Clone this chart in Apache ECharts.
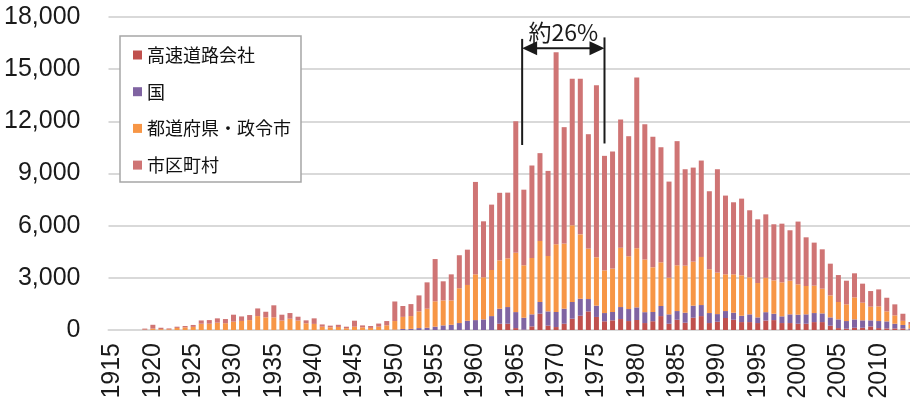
<!DOCTYPE html>
<html>
<head>
<meta charset="utf-8">
<script src="https://cdn.jsdelivr.net/npm/echarts@6/dist/echarts.min.js"></script>
<style>
  html, body { margin: 0; padding: 0; background: #ffffff; }
  #chart { width: 910px; height: 402px; }
</style>
</head>
<body>
<div id="chart"></div>
<script>
// Bridges by year of construction, stacked by managing body
const years = [
  '1915','1916','1917','1918','1919','1920','1921','1922','1923','1924',
  '1925','1926','1927','1928','1929','1930','1931','1932','1933','1934',
  '1935','1936','1937','1938','1939','1940','1941','1942','1943','1944',
  '1945','1946','1947','1948','1949','1950','1951','1952','1953','1954',
  '1955','1956','1957','1958','1959','1960','1961','1962','1963','1964',
  '1965','1966','1967','1968','1969','1970','1971','1972','1973','1974',
  '1975','1976','1977','1978','1979','1980','1981','1982','1983','1984',
  '1985','1986','1987','1988','1989','1990','1991','1992','1993','1994',
  '1995','1996','1997','1998','1999','2000','2001','2002','2003','2004',
  '2005','2006','2007','2008','2009','2010','2011','2012','2013','2014'
];

// 高速道路会社
const expressway = [
  0,0,0,0,0,0,0,0,0,0,
  0,0,0,0,0,0,0,0,0,0,
  0,0,0,0,0,0,0,0,0,0,
  0,0,0,0,0,0,0,0,0,0,
  0,0,0,0,0,0,0,0,360,360,
  110,15,210,940,250,170,360,650,820,1070,
  750,500,555,630,515,575,400,505,800,360,
  590,420,705,800,400,475,690,590,455,455,
  400,545,570,400,400,360,360,455,455,245,
  110,75,130,130,205,110,90,90,90,20
];

// 国
const national = [
  0,0,0,0,0,0,0,0,0,0,
  0,0,0,0,0,0,0,0,0,0,
  0,0,0,0,0,0,0,0,0,0,
  0,0,0,0,0,20,60,65,110,130,
  190,265,300,400,530,570,610,800,865,960,
  920,690,690,670,820,865,865,960,980,710,
  650,475,480,690,690,725,625,530,580,540,
  500,575,695,635,575,440,400,405,365,445,
  325,480,365,385,500,520,540,520,500,480,
  500,440,480,425,350,405,405,270,200,60
];

// 都道府県・政令市
const prefectural = [
  0,0,0,0,20,80,50,40,120,150,
  180,360,360,420,390,480,520,570,800,725,
  725,540,650,540,385,350,190,155,175,100,
  190,155,120,190,270,495,695,735,960,1095,
  1460,1435,1400,2000,2060,2630,2420,2650,2780,2800,
  3410,3015,3240,3510,3185,3895,3745,4410,3700,2900,
  2780,2455,2495,3415,3035,3400,3030,2570,2510,2110,
  2630,2705,2530,2765,2515,2385,2110,2205,2325,2130,
  1975,1975,1920,1955,1935,1745,1630,1575,1420,1265,
  1000,960,1265,1015,785,845,575,480,235,220
];

// 市区町村
const municipal = [
  0,0,0,0,60,220,80,50,70,80,
  110,190,210,250,240,400,260,290,440,325,
  695,340,325,225,170,320,130,95,125,90,
  345,110,110,180,245,1125,625,690,920,1515,
  2430,1100,1500,1900,2030,5315,3220,3760,3885,3780,
  7565,4350,5320,5050,4895,11050,6695,8425,8945,6580,
  9900,6585,6735,7370,6905,9820,7775,7510,6620,5525,
  7140,5545,5410,5545,4490,5945,4530,4145,4410,3855,
  3665,3650,3225,3375,2900,3610,2800,2475,2265,1825,
  1550,1360,1385,1095,900,975,785,635,410,155
];

const seriesNames = ['高速道路会社', '国', '都道府県・政令市', '市区町村'];
const seriesColors = ['#C0504D', '#8064A2', '#F79646', '#CF7474'];

// bracketed span and its label
const noteText = '約26%';
const noteFrom = '1966';
const noteTo = '1976';

const numFont = "'Liberation Sans Narrow', 'Liberation Sans', sans-serif";
const jpFont = "'Noto Sans CJK JP', sans-serif";

const chart = echarts.init(document.getElementById('chart'), null, { renderer: 'canvas' });

const stacks = [expressway, national, prefectural, municipal];

chart.setOption({
  animation: false,
  backgroundColor: '#ffffff',
  grid: {
    left: 108.5, top: 17, width: 806.5, height: 313,
    containLabel: false,
    outerBoundsMode: 'none'
  },
  legend: {
    data: seriesNames,
    orient: 'vertical',
    left: 120,
    top: 36,
    padding: [10, 10, 8, 13],
    itemWidth: 9,
    itemHeight: 9,
    itemGap: 18.7,
    icon: 'rect',
    selectedMode: false,
    borderColor: '#A6A6A6',
    borderWidth: 1.5,
    backgroundColor: '#ffffff',
    textStyle: { fontSize: 18, lineHeight: 18, fontFamily: jpFont, color: '#111111' }
  },
  xAxis: {
    type: 'category',
    data: years,
    boundaryGap: true,
    axisLine: { show: true, lineStyle: { color: '#D9D9D9', width: 2 } },
    axisTick: { show: false },
    axisLabel: {
      interval: 4,
      rotate: 90,
      margin: 13,
      fontSize: 25,
      fontFamily: numFont,
      color: '#1a1a1a'
    },
    splitLine: { show: false }
  },
  yAxis: {
    type: 'value',
    min: 0,
    max: 18000,
    interval: 3000,
    axisLine: { show: false },
    axisTick: { show: false },
    axisLabel: {
      margin: 28,
      fontSize: 25,
      fontFamily: numFont,
      color: '#1a1a1a',
      formatter: v => v.toLocaleString('en-US')
    },
    splitLine: { lineStyle: { color: '#D9D9D9', width: 2 } }
  },
  series: stacks.map((d, i) => ({
    name: seriesNames[i],
    type: 'bar',
    stack: 'total',
    data: d,
    barWidth: 5,
    itemStyle: { color: seriesColors[i] },
    emphasis: { disabled: true }
  }))
});

// Bracket with double arrow over the peak decade
const xAt = c => chart.convertToPixel({ xAxisIndex: 0 }, c);
const yAt = v => chart.convertToPixel({ yAxisIndex: 0 }, v);
const band = xAt(years[1]) - xAt(years[0]);
const xL = xAt(noteFrom) - 0.21 * band;
const xR = xAt(noteTo);
const yTop = yAt(16740);
const yBottom = yAt(10640);
const yArrow = yAt(16200);
const yLabel = yAt(17150);
const ink = '#1a1a1a';
const head = 15, half = 7;

chart.setOption({
  graphic: [
    { type: 'line', shape: { x1: xL, y1: yTop, x2: xL, y2: yBottom }, style: { stroke: ink, lineWidth: 2 } },
    { type: 'line', shape: { x1: xR, y1: yTop - 1.5, x2: xR, y2: yBottom - 1.5 }, style: { stroke: ink, lineWidth: 2 } },
    { type: 'line', shape: { x1: xL + head - 1, y1: yArrow, x2: xR - head + 1, y2: yArrow }, style: { stroke: ink, lineWidth: 2 } },
    { type: 'polygon', shape: { points: [[xL, yArrow], [xL + head, yArrow - half], [xL + head, yArrow + half]] }, style: { fill: ink } },
    { type: 'polygon', shape: { points: [[xR, yArrow], [xR - head, yArrow - half], [xR - head, yArrow + half]] }, style: { fill: ink } },
    {
      type: 'text',
      x: (xL + xR) / 2,
      y: yLabel,
      style: {
        text: noteText,
        align: 'center',
        verticalAlign: 'middle',
        fontSize: 23,
        fontFamily: jpFont,
        fill: ink
      }
    }
  ]
});
</script>
</body>
</html>
